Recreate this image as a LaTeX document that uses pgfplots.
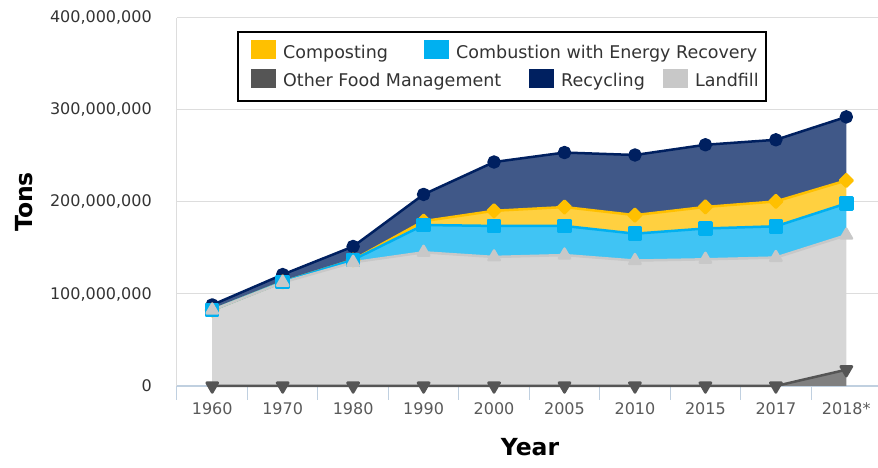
\documentclass[border=0pt]{standalone}
\usepackage{fontspec}
\setmainfont{DejaVu Sans}
\usepackage{pgfplots}
\pgfplotsset{compat=1.18}
\usepackage{pgfplotstable}

\definecolor{cCompLine}{HTML}{FFC000}
\definecolor{cCompFill}{HTML}{FFD040}
\definecolor{cCombLine}{HTML}{00B0F0}
\definecolor{cCombFill}{HTML}{40C4F4}
\definecolor{cRecLine}{HTML}{002060}
\definecolor{cRecFill}{HTML}{405888}
\definecolor{cLandLine}{HTML}{C8C8C8}
\definecolor{cLandFill}{HTML}{D6D6D6}
\definecolor{cFoodLine}{HTML}{555555}
\definecolor{cFoodFill}{HTML}{808080}
\definecolor{cGrid}{HTML}{DDDDDD}
\definecolor{cXaxis}{HTML}{C0D0E0}
\definecolor{cText}{HTML}{333333}
\definecolor{cTick}{HTML}{5A5A5A}

\pgfplotstableread{
x other landfill combustion composting recycling
0 0 82510000 0 0 5610000
1 0 112600000 500000 0 8020000
2 0 134420000 2700000 0 14520000
3 0 145290000 29700000 4200000 29040000
4 0 140260000 33730000 16450000 53010000
5 0 142290000 31660000 20550000 59240000
6 0 136310000 29260000 20170000 65350000
7 0 137700000 33510000 23400000 67590000
8 0 139600000 34000000 27000000 67000000
9 17700000 146180000 34560000 24970000 69090000
}\msw

\pgfplotsset{
  common/.style={
    scale only axis, width=701bp, height=368bp,
    xmin=-0.5, xmax=9.45, ymin=0, ymax=400000000,
    at={(0,0)}, anchor=south west,
    stack plots=y,
  },
  ln/.style={line width=2.5bp, line join=round},
}

\begin{document}
\begin{tikzpicture}[x=1bp,y=1bp]
% filled areas, grid and axes
\begin{axis}[common,
  axis x line=bottom, axis y line=left,
  x axis line style={-, draw=cXaxis, line width=1.5bp},
  y axis line style={-, draw=cGrid, line width=1bp},
  ymajorgrids, grid style={draw=cGrid, line width=1bp},
  xtick={0,...,9},
  xticklabels={1960,1970,1980,1990,2000,2005,2010,2015,2017,2018*},
  minor xtick={-0.5,0.5,...,8.5},
  tick align=outside,
  major tick length=0pt,
  minor tick length=14bp,
  major x tick style={draw=none},
  minor x tick style={draw=cXaxis, line width=1bp},
  major y tick style={draw=none},
  ytick={0,100000000,200000000,300000000,400000000},
  yticklabels={0,{100,000,000},{200,000,000},{300,000,000},{400,000,000}},
  scaled y ticks=false,
  yticklabel style={font=\fontsize{16bp}{19bp}\selectfont, text=cText, anchor=east, inner sep=0pt, xshift=-25bp},
  xticklabel style={font=\fontsize{16bp}{19bp}\selectfont, text=cTick, anchor=north, inner sep=0pt, yshift=-16.7bp},
  xlabel={Year}, ylabel={Tons},
  xlabel style={at={(axis description cs:0.5036,-0.1894)}, anchor=base, inner sep=0pt, font=\bfseries\fontsize{23.5bp}{26bp}\selectfont},
  ylabel style={at={(axis description cs:-0.2064,0.5)}, anchor=base, inner sep=0pt, rotate=0, font=\bfseries\fontsize{23.5bp}{26bp}\selectfont},
]
\addplot[draw=none, fill=cFoodFill] table[x=x, y=other] {\msw} \closedcycle;
\addplot[draw=none, fill=cLandFill] table[x=x, y=landfill] {\msw} \closedcycle;
\addplot[draw=none, fill=cCombFill] table[x=x, y=combustion] {\msw} \closedcycle;
\addplot[draw=none, fill=cCompFill] table[x=x, y=composting] {\msw} \closedcycle;
\addplot[draw=none, fill=cRecFill] table[x=x, y=recycling] {\msw} \closedcycle;
\end{axis}
% lines and markers
\begin{axis}[common, hide axis, clip=false]
\addplot[ln, draw=cFoodLine, mark=triangle*, mark size=6.5bp,
  mark options={rotate=180, fill=cFoodLine, draw=none}] table[x=x, y=other] {\msw};
\addplot[ln, draw=cLandLine, mark=triangle*, mark size=6.5bp,
  mark options={fill=cLandLine, draw=none}] table[x=x, y=landfill] {\msw};
\addplot[ln, draw=cCombLine, mark=square*, mark size=6bp,
  mark options={fill=cCombLine, draw=none}] table[x=x, y=combustion] {\msw};
\addplot[ln, draw=cCompLine, mark=square*, mark size=4.5bp,
  mark options={rotate=45, fill=cCompLine, draw=none}] table[x=x, y=composting] {\msw};
\addplot[ln, draw=cRecLine, mark=*, mark size=5.5bp,
  mark options={fill=cRecLine, draw=none}] table[x=x, y=recycling] {\msw};
\end{axis}
% legend
\draw[line width=2bp, fill=white] (61,353.7) rectangle (589,285);
\begin{scope}[every node/.style={anchor=base west, inner sep=0pt, text=cText, font=\fontsize{17.5bp}{20bp}\selectfont}]
\node at (74,327.7) {\textcolor{cCompLine}{\rule[-1bp]{25bp}{19bp}}\hspace{7bp}Composting};
\node at (247,327.7) {\textcolor{cCombLine}{\rule[-1bp]{25bp}{19bp}}\hspace{7bp}Combustion with Energy Recovery};
\node at (74,299) {\textcolor{cFoodLine}{\rule[-1bp]{25bp}{19bp}}\hspace{7bp}Other Food Management};
\node at (352,299) {\textcolor{cRecLine}{\rule[-1bp]{25bp}{19bp}}\hspace{7bp}Recycling};
\node at (486,299) {\textcolor{cLandLine}{\rule[-1bp]{25bp}{19bp}}\hspace{7bp}Landfill};
\end{scope}
\pgfresetboundingbox
\path[use as bounding box] (-177,-82) rectangle (701,386);
\end{tikzpicture}
\end{document}
